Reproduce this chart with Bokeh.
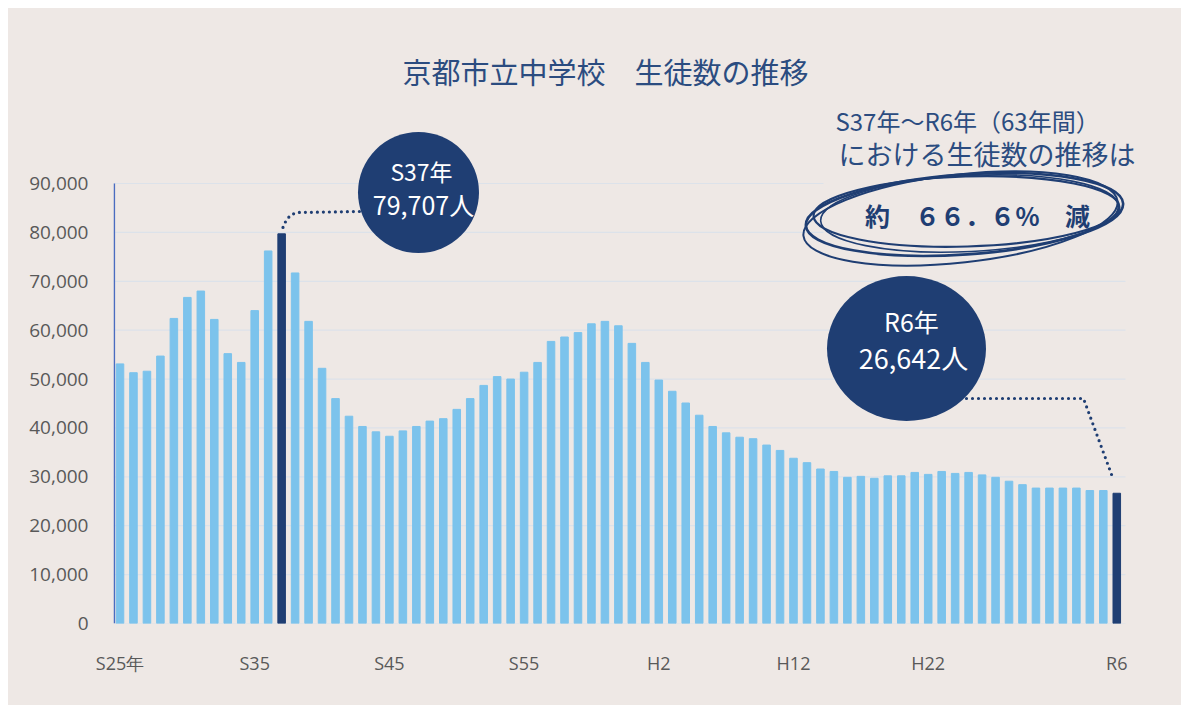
from bokeh.plotting import figure
from bokeh.models import (ColumnDataSource, Range1d, FixedTicker, NumeralTickFormatter, Label)
from bokeh.embed import file_html
from bokeh.resources import INLINE

# ---- data ----
years = list(range(1950, 2025))  # S25 ... R6
students = [53100, 51300, 51600, 54700, 62400, 66700, 68000, 62200, 55200, 53400,
            64000, 76200, 79707, 71700, 61800, 52200, 46000, 42400, 40300, 39200,
            38300, 39400, 40300, 41400, 41900, 43800, 46000, 48700, 50500, 50000,
            51400, 53400, 57700, 58600, 59500, 61300, 61800, 60900, 57300, 53400,
            49800, 47500, 45100, 42600, 40300, 39000, 38100, 37800, 36500, 35400,
            33800, 32900, 31600, 31100, 29900, 30100, 29700, 30200, 30200, 30900,
            30500, 31100, 30700, 30900, 30400, 29900, 29100, 28400, 27700, 27700,
            27700, 27700, 27200, 27200, 26642]
highlight_years = [1962, 2024]
tick_years = [1950, 1960, 1970, 1980, 1990, 2000, 2010, 2024]
tick_labels = ["S25年", "S35", "S45", "S55", "H2", "H12", "H22", "R6"]
y_ticks = [0, 10000, 20000, 30000, 40000, 50000, 60000, 70000, 80000, 90000]

title_text = "京都市立中学校　生徒数の推移"
note_line1 = "S37年～R6年（63年間）"
note_line2 = "における生徒数の推移は"
note_result = "約　６６．６％　減"
s37_lines = ["S37年", "79,707人"]
r6_lines = ["R6年", "26,642人"]

# ---- styles ----
BG = "#EEE8E5"
LIGHT = "#7CC3EC"
DARK = "#1F3E73"
TXT = "#595959"
FONT = "Noto Sans CJK JP"
TICKFONT = "Open Sans"

# page-pixel geometry helpers (page offset of the figure = 8px)
OFF = 8
W, H = 1173, 697
X0, SX = 119.5, 13.47          # page x of first bar, px per bar
FL, FR, FT, FB = 113, 1165, 30, 623
GRID_R = 1125                  # right end of the grid lines
PX_PER_VAL = 440 / 90000.0


def dx(px):
    return (px - X0) / SX


def dy(py):
    return (FB - py) / PX_PER_VAL


idx = [y - years[0] for y in years]
colors = [DARK if y in highlight_years else LIGHT for y in years]
src = ColumnDataSource(dict(x=idx, top=students, color=colors))

p = figure(frame_width=FR - FL, frame_height=FB - FT,
           min_border_left=FL - OFF, min_border_right=W - (FL - OFF) - (FR - FL),
           min_border_top=FT - OFF, min_border_bottom=H - (FT - OFF) - (FB - FT),
           x_range=Range1d(dx(FL), dx(FR)), y_range=Range1d(0, dy(FT)),
           output_backend="svg", toolbar_location=None, tools="")
p.margin = (OFF, 0, 0, OFF)
p.styles = {"background-color": BG}
p.background_fill_color = None
p.border_fill_color = None
p.outline_line_color = None

# axes
p.yaxis.ticker = FixedTicker(ticks=y_ticks)
p.yaxis.formatter = NumeralTickFormatter(format="0,0")
p.yaxis.axis_line_color = None
p.yaxis.major_tick_line_color = None
p.yaxis.minor_tick_line_color = None
p.yaxis.major_label_standoff = 19
p.yaxis.major_label_text_font = TICKFONT
p.yaxis.major_label_text_font_size = "19px"
p.yaxis.major_label_text_color = TXT

p.xaxis.ticker = FixedTicker(ticks=[t - years[0] for t in tick_years])
p.xaxis.major_label_overrides = {t - years[0]: lab for t, lab in zip(tick_years, tick_labels)}
p.xaxis.axis_line_color = None
p.xaxis.major_tick_line_color = None
p.xaxis.minor_tick_line_color = None
p.xaxis.major_label_standoff = 21
p.xaxis.major_label_text_font = TICKFONT
p.xaxis.major_label_text_font_size = "18px"
p.xaxis.major_label_text_color = TXT

p.xgrid.grid_line_color = None
p.ygrid.grid_line_color = None

# horizontal grid lines (limited to the chart area)
p.segment(x0=[dx(FL)] * len(y_ticks), x1=[dx(GRID_R)] * len(y_ticks),
          y0=y_ticks, y1=y_ticks, line_color="#DCE2EA", line_width=1.2)

# bars
p.vbar(x="x", top="top", width=0.56, color="color", source=src)

# vertical axis line
p.segment(x0=[dx(FL) + 0.06], y0=[0], x1=[dx(FL) + 0.06], y1=[y_ticks[-1]],
          line_color="#4A6CC0", line_width=1.6)

# background mask behind the note
p.quad(left=[dx(823)], right=[dx(FR)], bottom=[dy(262)], top=[dy(FT)],
       fill_color=BG, line_color=None)

# hand drawn loops around the result
for (cx, cy, w, h, a, lw) in [(964, 214, 318, 80, 0.07, 2.6),
                              (966, 211, 306, 70, 0.03, 2.2),
                              (960, 218, 316, 88, 0.11, 2.0),
                              (969, 213, 298, 76, 0.05, 1.6)]:
    p.ellipse(x=[dx(cx)], y=[dy(cy)], width=[w], height=[h], angle=[a],
              width_units="screen", height_units="screen",
              fill_color=None, line_color=DARK, line_width=lw)

# leader lines
s37_i = highlight_years[0] - years[0]
r6_i = highlight_years[1] - years[0]
p.line(x=[s37_i + 0.1, dx(286), dx(291), dx(297), dx(360)],
       y=[students[s37_i] + 1300, dy(219), dy(214), dy(212), dy(211)],
       line_color=DARK, line_width=3.2, line_dash="0 6", line_cap="round")
p.line(x=[dx(966), dx(1083), r6_i - 0.25],
       y=[dy(398), dy(398), students[r6_i] + 2800],
       line_color=DARK, line_width=3.2, line_dash="0 6", line_cap="round")

# callout circles
p.ellipse(x=[dx(418)], y=[dy(192)], width=[121], height=[121],
          width_units="screen", height_units="screen", fill_color=DARK, line_color=None)
p.ellipse(x=[dx(906)], y=[dy(348)], width=[159], height=[145],
          width_units="screen", height_units="screen", fill_color=DARK, line_color=None)


def lab(px, py, text, size, color, style="normal", align="center"):
    p.add_layout(Label(x=dx(px), y=dy(py), text=text, text_font=FONT,
                       text_font_size=size, text_color=color, text_font_style=style,
                       text_align=align, text_baseline="middle"))


lab(421, 170, s37_lines[0], "23px", "white")
lab(423, 203, s37_lines[1], "25px", "white")
lab(911, 320, r6_lines[0], "25px", "white")
lab(913, 357, r6_lines[1], "27px", "white")

lab(605, 70, title_text, "29px", "#2B4C80")
lab(835, 120, note_line1, "24px", "#2B4C80", align="left")
lab(838, 153, note_line2, "27px", "#2B4C80", align="left")
lab(977, 214, note_result, "25px", DARK, "bold")

open("out.html", "w").write(file_html(p, INLINE))
